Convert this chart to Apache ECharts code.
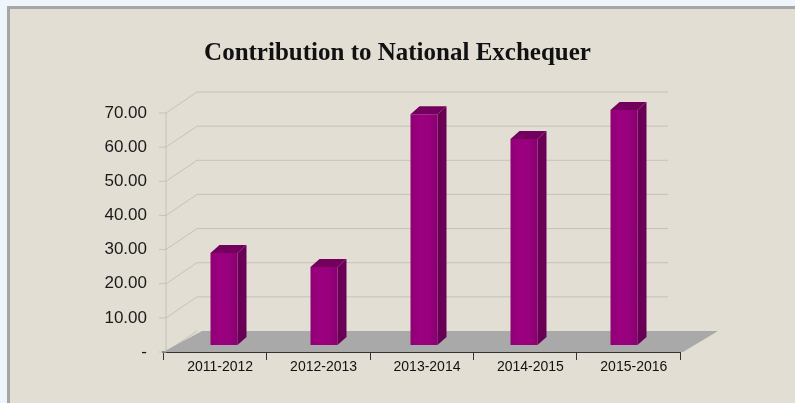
<!DOCTYPE html>
<html>
<head>
<meta charset="utf-8">
<script src="https://cdn.jsdelivr.net/npm/echarts@6/dist/echarts.min.js"></script>
<style>
html,body{margin:0;padding:0;background:#eef6fb;}
#c{width:795px;height:403px;}
</style>
</head>
<body>
<div id="c"></div>
<script>
const titleText = 'Contribution to National Exchequer';
const categories = ['2011-2012', '2012-2013', '2013-2014', '2014-2015', '2015-2016'];
const values = [26.9, 22.8, 67.5, 60.2, 68.7];
const yTicks = [0, 10, 20, 30, 40, 50, 60, 70];
const yMin = 0, yMax = 70, yStep = 10;

const chart = echarts.init(document.getElementById('c'), null, {renderer: 'canvas'});

const WALL_DX = 31, WALL_DY = -21;
const FLOOR_DX = 37, FLOOR_DY = -21;
const BAR_W = 27, BAR_DX = 9, BAR_DY = -8;
const wallColor = '#c6c2b8';

function wallItem(params, api) {
  const cs = params.coordSys;
  const v = api.value(0);
  const y = api.coord([0, v])[1];
  const xl = cs.x + 3;
  const children = [];
  children.push({type: 'line', shape: {x1: cs.x - 4, y1: y, x2: xl, y2: y}, style: {stroke: wallColor, lineWidth: 1}});
  children.push({type: 'line', shape: {x1: xl, y1: y, x2: xl + WALL_DX, y2: y + WALL_DY}, style: {stroke: wallColor, lineWidth: 1}});
  if (v !== 0) {
    children.push({type: 'line', shape: {x1: xl + WALL_DX, y1: y + WALL_DY, x2: cs.x + cs.width - 12, y2: y + WALL_DY}, style: {stroke: wallColor, lineWidth: 1}});
  } else {
    const yTop = api.coord([0, yMax])[1];
    children.push({type: 'line', shape: {x1: xl, y1: y, x2: xl, y2: yTop}, style: {stroke: wallColor, lineWidth: 1}});
  }
  return {type: 'group', children};
}

function floorItem(params, api) {
  const cs = params.coordSys;
  const y0 = api.coord([0, 0])[1];
  const xL = cs.x, xR = cs.x + cs.width + 3;
  return {
    type: 'polygon',
    shape: {points: [[xL, y0], [xR, y0], [xR + FLOOR_DX - 2, y0 + FLOOR_DY], [xL + FLOOR_DX + 2, y0 + FLOOR_DY]]},
    style: {fill: '#a9a9a9'}
  };
}

function barItem(params, api) {
  const idx = api.value(0);
  const top = api.coord([idx, api.value(1)]);
  const bot = api.coord([idx, 0]);
  const x0 = top[0] - BAR_W / 2, x1 = x0 + BAR_W;
  const yt = top[1], yb = bot[1];
  return {
    type: 'group',
    children: [
      {type: 'polygon', shape: {points: [[x1, yt], [x1 + BAR_DX, yt + BAR_DY], [x1 + BAR_DX, yb + BAR_DY], [x1, yb]]},
        style: {fill: '#6a0056'}},
      {type: 'polygon', shape: {points: [[x0, yt], [x1, yt], [x1 + BAR_DX, yt + BAR_DY], [x0 + BAR_DX, yt + BAR_DY]]},
        style: {fill: '#74005e'}},
      {type: 'rect', shape: {x: x0, y: yt, width: BAR_W, height: yb - yt},
        style: {fill: new echarts.graphic.LinearGradient(0, 0, 1, 0, [
          {offset: 0, color: '#8e0074'}, {offset: 0.35, color: '#9c0080'}, {offset: 0.7, color: '#98007c'}, {offset: 1, color: '#880070'}])}}
    ]
  };
}

const option = {
  backgroundColor: '#eef6fb',
  animation: false,
  graphic: [
    {type: 'rect', z: -10, shape: {x: 8.5, y: 7.5, width: 800, height: 420},
      style: {fill: '#e2ded3', stroke: '#a6a6a6', lineWidth: 3}},
    {type: 'text', x: 397.5, y: 54, z: 10,
      style: {text: titleText, align: 'center', verticalAlign: 'middle',
        font: 'bold 25px "Liberation Serif", "DejaVu Serif", serif', fill: '#111'}}
  ],
  grid: [
    {left: 163, right: 115, top: 113, bottom: 51},
    {left: 174, right: 121, top: 105.6, bottom: 58}
  ],
  xAxis: [
    {type: 'category', gridIndex: 0, data: categories,
      axisLine: {lineStyle: {color: '#333', width: 2}},
      axisTick: {show: true, length: 8, lineStyle: {color: '#333', width: 1}},
      axisLabel: {fontSize: 14, color: '#111', margin: 8, fontFamily: '"Liberation Sans", Arial, sans-serif', padding: [0, 0, 0, 11]},
      splitLine: {show: false}},
    {type: 'category', gridIndex: 1, data: categories, show: false}
  ],
  yAxis: [
    {type: 'value', gridIndex: 0, min: yMin, max: yMax, interval: yStep,
      axisLine: {show: false}, axisTick: {show: false}, splitLine: {show: false},
      axisLabel: {fontSize: 17, color: '#1a1a1a', margin: 16, fontFamily: '"Liberation Sans", Arial, sans-serif',
        formatter: v => v === 0 ? '-' : v.toFixed(2)}},
    {type: 'value', gridIndex: 1, min: yMin, max: yMax, interval: yStep, show: false, splitLine: {show: false}}
  ],
  series: [
    {type: 'custom', xAxisIndex: 0, yAxisIndex: 0, z: 1, renderItem: wallItem,
      data: yTicks.map(v => [v]), encode: {y: 0}, silent: true},
    {type: 'custom', xAxisIndex: 0, yAxisIndex: 0, z: 2, renderItem: floorItem,
      data: [[0, 0]], silent: true},
    {type: 'custom', xAxisIndex: 1, yAxisIndex: 1, z: 3, renderItem: barItem,
      data: values.map((v, i) => [i, v]), encode: {x: 0, y: 1}}
  ]
};
chart.setOption(option);
</script>
</body>
</html>
